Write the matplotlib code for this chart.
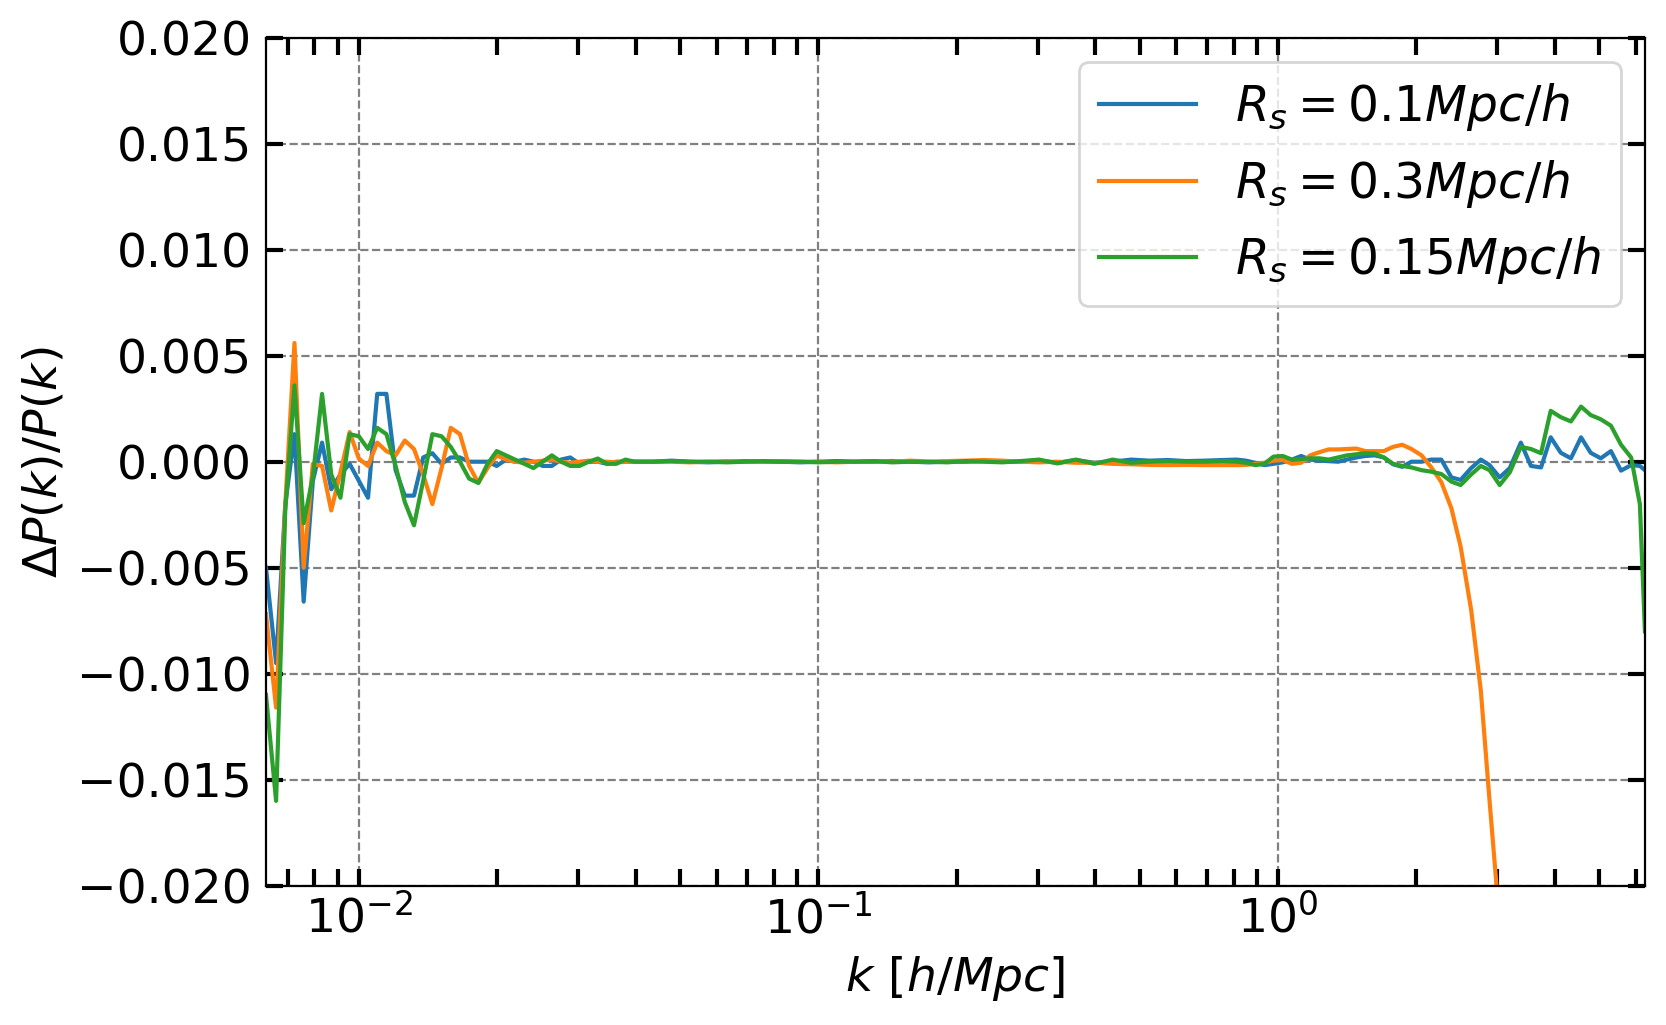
import numpy as np
import matplotlib.pyplot as plt
from matplotlib.ticker import MultipleLocator

# log10(k) of the bins, k in h/Mpc
log_k = [-2.202, -2.18, -2.16, -2.14, -2.12, -2.10, -2.08, -2.06, -2.04, -2.02,
         -2.00, -1.98, -1.96, -1.94, -1.92, -1.90, -1.88, -1.86, -1.84, -1.82,
         -1.80, -1.78, -1.76, -1.74, -1.72, -1.70, -1.68, -1.66, -1.64, -1.62,
         -1.60, -1.58, -1.56, -1.54, -1.52, -1.50, -1.48, -1.46, -1.44, -1.42, -1.40,
         -1.36, -1.32, -1.28, -1.24, -1.20, -1.16, -1.12, -1.08, -1.04, -1.00,
         -0.96, -0.92, -0.88, -0.84, -0.80, -0.76, -0.72, -0.68, -0.64, -0.60,
         -0.56, -0.52, -0.48, -0.44, -0.40, -0.36, -0.32, -0.28, -0.24, -0.20,
         -0.16, -0.12,
         -0.09, -0.07, -0.05, -0.03, -0.01, 0.01, 0.03, 0.05, 0.07, 0.09,
         0.11, 0.13, 0.15, 0.17, 0.19, 0.21, 0.23, 0.25, 0.27, 0.29,
         0.312, 0.333, 0.355, 0.377, 0.397, 0.420, 0.441, 0.460, 0.482, 0.504,
         0.528, 0.550, 0.572, 0.593, 0.615, 0.637, 0.659, 0.680, 0.702, 0.724,
         0.746, 0.768, 0.787, 0.798]

nan = float('nan')

# Delta P / P for R_s = 0.1 Mpc/h
dp_01 = [-0.0050, -0.0095, -0.0020, 0.0013, -0.0066, -0.0009, 0.0009, -0.0013, -0.0006, -0.0001,
         -0.0009, -0.0017, 0.0032, 0.0032, -0.0004, -0.0016, -0.0016, 0.0002, 0.0004, -0.0001,
         0.0002, 0.0002, 0.0000, 0.0000, 0.0000, -0.0002, 0.0001, 0.0000, 0.0001, 0.0000,
         -0.0002, -0.0002, 0.0001, 0.0002, -0.0001, 0.0000, 0.0000, -0.0001, 0.0000, 0.0000, 0.0000,
         0.0, 0.00005, 0.0, -0.00003, 0.0, 0.00003, 0.0, 0.0, -0.00003, 0.0,
         0.00003, 0.0, 0.0, 0.00003, 0.0, -0.00003, 0.0, 0.0, 0.00003, 0.0,
         0.0, 0.00005, -0.00005, 0.00008, -0.00005, 0.0, 0.0001, 0.00005, 0.00008, 0.00003,
         0.00005, 0.00008,
         0.0001, 0.00005, -0.00005, -0.00016, -0.0001, -0.00003, 0.0001, 0.00027, 0.0001, 0.00005,
         0.00003, 0.0, 0.0001, 0.0002, 0.00027, 0.0003, 0.0002, -0.00012, -0.00024, 0.0,
         0.0, 0.0001, 0.0001, -0.00074, -0.00086, -0.0003, 0.0001, -0.00016, -0.00074, -0.0003,
         0.0009, -0.0002, -0.00027, 0.00115, 0.00042, 0.00016, 0.00115, 0.00042, 0.00016, 0.0005,
         -0.00042, -0.00016, -0.0002, -0.0004]

# Delta P / P for R_s = 0.3 Mpc/h
dp_03 = [-0.0072, -0.0116, -0.0020, 0.0056, -0.0050, -0.0001, -0.0002, -0.0023, -0.0005, 0.0014,
         0.00015, -0.0002, 0.0009, 0.0005, 0.0003, 0.0010, 0.0006, -0.0006, -0.0020, -0.0003,
         0.0016, 0.0013, -0.0002, -0.0010, -0.0003, 0.0003, 0.0001, 0.0, -0.00005, 0.0,
         0.00005, 0.0001, 0.0, -0.00005, 0.0, 0.00005, 0.0, 0.0, -0.00003, 0.0, 0.0,
         0.0, 0.0, -0.00003, 0.0, 0.00003, 0.0, 0.0, 0.00003, 0.0, 0.0,
         -0.00003, 0.0, 0.00003, 0.0, 0.00005, 0.0, 0.00003, 0.00005, 0.00008, 0.00005,
         0.0, -0.00003, 0.0, -0.00005, -0.00005, -0.0001, -0.00012, -0.00015, -0.00016, -0.00015,
         -0.00016, -0.00016,
         -0.00016, -0.00015, -0.0001, -0.00005, 0.00005, 0.00008, -0.0001, -0.00005, 0.0003, 0.00045,
         0.00058, 0.00058, 0.0006, 0.00062, 0.0005, 0.0005, 0.0005, 0.0007, 0.0008, 0.0006,
         0.0003, -0.00026, -0.00096, -0.0022, -0.0040, -0.0070, -0.0108, -0.0160, -0.0218, nan,
         nan, nan, nan, nan, nan, nan, nan, nan, nan, nan,
         nan, nan, nan, nan]

# Delta P / P for R_s = 0.15 Mpc/h
dp_015 = [-0.0110, -0.0160, -0.0023, 0.0036, -0.0029, -0.0007, 0.0032, -0.0006, -0.0017, 0.0013,
          0.0012, 0.0006, 0.0016, 0.0013, -0.0002, -0.0019, -0.0030, -0.0009, 0.0013, 0.0012,
          0.0007, 0.0000, -0.0008, -0.0010, -0.0001, 0.0005, 0.0003, 0.0001, -0.0001, -0.0003,
          0.0000, 0.0003, 0.0000, -0.0002, -0.0002, 0.0000, 0.00015, -0.0001, -0.0001, 0.0001, 0.0000,
          0.0, 0.00003, 0.0, 0.0, -0.00003, 0.0, 0.00003, 0.0, 0.0, -0.00003,
          0.0, 0.0, 0.00003, -0.00003, 0.0, 0.0, -0.00003, 0.00003, 0.0, -0.00003,
          0.00003, 0.0001, -0.00008, 0.0001, -0.0001, 0.0001, -0.00005, 0.0, 0.00003, 0.0,
          0.0, 0.00003,
          0.0, -0.00005, -0.00016, -0.0001, 0.00024, 0.00027, 0.0001, 0.00012, 0.00016, 0.00016,
          0.0001, 0.0002, 0.0003, 0.00035, 0.0004, 0.00038, 0.0002, -0.0001, -0.0002, -0.00027,
          -0.0004, -0.00047, -0.00058, -0.00094, -0.0011, -0.0006, -0.0002, -0.0004, -0.0011, -0.0005,
          0.0007, 0.0006, 0.0004, 0.0024, 0.0021, 0.0019, 0.0026, 0.0022, 0.0020, 0.0017,
          0.0008, 0.0002, -0.0020, -0.0080]

labels = [r'$R_s = 0.1Mpc/h$', r'$R_s = 0.3Mpc/h$', r'$R_s = 0.15Mpc/h$']

k = 10 ** np.array(log_k)
fs = 17

fig, ax = plt.subplots(figsize=(8.33, 5.125), dpi=200)
fig.subplots_adjust(left=0.1597, right=0.9874, top=0.9632, bottom=0.1359)

for y, lab in zip([dp_01, dp_03, dp_015], labels):
    ax.plot(k, y, lw=1.5, label=lab)

ax.set_xscale('log')
ax.set_xlim(2 * np.pi / 1000, 2 * np.pi)
ax.set_ylim(-0.02, 0.02)
ax.yaxis.set_major_locator(MultipleLocator(0.005))
ax.grid(True, which='major', ls='--', color='gray', lw=0.8)
ax.tick_params(which='both', direction='in', top=True, right=True,
               length=6, width=1.5, labelsize=fs)
ax.tick_params(axis='y', pad=5)
ax.set_xlabel(r'$k\ [h/Mpc]$', fontsize=fs)
ax.set_ylabel(r'$\Delta P(k)/P(k)$', fontsize=fs)
ax.legend(loc='upper right', fontsize=17.5)

fig.savefig('out.png', dpi=200)
